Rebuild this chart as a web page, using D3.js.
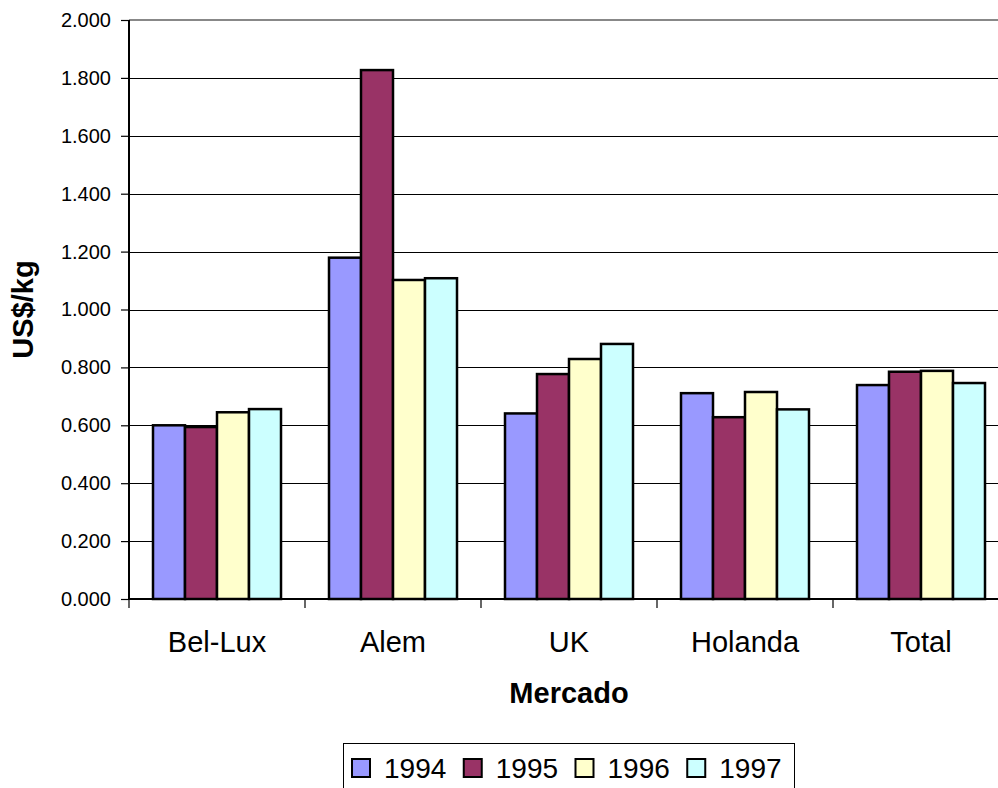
<!DOCTYPE html>
<html>
<head>
<meta charset="utf-8">
<script src="https://cdn.jsdelivr.net/npm/d3@7"></script>
<style>
  html, body { margin: 0; padding: 0; background: #fff; }
  svg { display: block; }
  text { font-family: Arial, "Liberation Sans", sans-serif; fill: #000; }
</style>
</head>
<body>
<svg id="chart" width="998" height="788"></svg>
<script>
// Price per kg by market, 1994-1997
const categories = ["Bel-Lux", "Alem", "UK", "Holanda", "Total"];
const years = ["1994", "1995", "1996", "1997"];
const v1994 = [0.600, 1.179, 0.641, 0.711, 0.739];
const v1995 = [0.594, 1.827, 0.777, 0.628, 0.785];
const v1996 = [0.645, 1.102, 0.829, 0.715, 0.788];
const v1997 = [0.656, 1.108, 0.881, 0.655, 0.746];
const yTicks = [0, 0.2, 0.4, 0.6, 0.8, 1.0, 1.2, 1.4, 1.6, 1.8, 2.0];
const colors = ["#9999FF", "#993366", "#FFFFCC", "#CCFFFF"];

const seriesValues = [v1994, v1995, v1996, v1997];
const rows = categories.map((c, i) => ({
  cat: c,
  vals: years.map((yr, k) => ({ year: yr, value: seriesValues[k][i], color: colors[k] }))
}));

const svg = d3.select("#chart");
const plotLeft = 129, plotRight = 1009, plotTop = 20, plotBottom = 599;

const x = d3.scaleBand().domain(categories).range([plotLeft, plotRight]).padding(0);
const xIn = d3.scaleBand().domain(years).range([24, x.bandwidth() - 24]).padding(0);
const y = d3.scaleLinear().domain([0, 2]).range([plotBottom, plotTop]);

// horizontal gridlines
svg.append("g").selectAll("line")
  .data(yTicks.filter(t => t > 0 && t < 2))
  .join("line")
  .attr("x1", plotLeft).attr("x2", plotRight)
  .attr("y1", d => Math.round(y(d)) + 0.5).attr("y2", d => Math.round(y(d)) + 0.5)
  .attr("stroke", "#000").attr("stroke-width", 1);

// top border of plot area
svg.append("line")
  .attr("x1", plotLeft).attr("x2", plotRight)
  .attr("y1", y(2)).attr("y2", y(2))
  .attr("stroke", "#888").attr("stroke-width", 2);

// bars
const groups = svg.append("g").selectAll("g")
  .data(rows).join("g")
  .attr("transform", d => `translate(${x(d.cat)},0)`);

groups.selectAll("rect")
  .data(d => d.vals).join("rect")
  .attr("x", d => xIn(d.year))
  .attr("width", xIn.bandwidth())
  .attr("y", d => y(d.value))
  .attr("height", d => y(0) - y(d.value))
  .attr("fill", d => d.color)
  .attr("stroke", "#000")
  .attr("stroke-width", 2.5);

// y axis
const yAxis = d3.axisLeft(y)
  .tickValues(yTicks)
  .tickFormat(d3.format(".3f"))
  .tickSize(8)
  .tickPadding(10);
const gy = svg.append("g").attr("transform", `translate(${plotLeft},0)`).call(yAxis);
gy.select(".domain").attr("stroke", "#000").attr("stroke-width", 2).attr("d", `M0,${plotTop}V${plotBottom}`);
gy.selectAll(".tick line").attr("stroke", "#000").attr("stroke-width", 1.2);
gy.selectAll(".tick text")
  .style("font-family", "Arial, 'Liberation Sans', sans-serif")
  .style("font-size", "20px")
  .attr("fill", "#000");

// x axis
const xAxis = d3.axisBottom(x).tickSize(0).tickPadding(0).tickFormat(() => "");
const gx = svg.append("g").attr("transform", `translate(0,${plotBottom})`).call(xAxis);
gx.select(".domain").attr("stroke", "#000").attr("stroke-width", 2).attr("d", `M${plotLeft},0H${plotRight}`);

// category separator ticks
svg.append("g").selectAll("line")
  .data(categories.map(c => x(c)))
  .join("line")
  .attr("x1", d => d).attr("x2", d => d)
  .attr("y1", plotBottom).attr("y2", plotBottom + 9)
  .attr("stroke", "#000").attr("stroke-width", 1.2);

// category labels
svg.append("g").selectAll("text")
  .data(categories).join("text")
  .attr("x", d => x(d) + x.bandwidth() / 2)
  .attr("y", 652)
  .attr("text-anchor", "middle")
  .style("font-size", "29px")
  .text(d => d);

// axis titles
svg.append("text")
  .attr("x", (plotLeft + plotRight) / 2)
  .attr("y", 703)
  .attr("text-anchor", "middle")
  .style("font-size", "29px")
  .style("font-weight", "bold")
  .text("Mercado");

svg.append("text")
  .attr("transform", `translate(33,${(plotTop + plotBottom) / 2}) rotate(-90)`)
  .attr("text-anchor", "middle")
  .style("font-size", "29px")
  .style("font-weight", "bold")
  .text("US$/kg");

// legend
const legend = svg.append("g");
legend.append("rect")
  .attr("x", 343.5).attr("y", 743.5)
  .attr("width", 451).attr("height", 60)
  .attr("fill", "#fff").attr("stroke", "#000").attr("stroke-width", 1);

const lx = d3.scaleBand().domain(years).range([352, 799]);
const items = legend.selectAll("g.item")
  .data(years.map((yr, k) => ({ year: yr, color: colors[k] })))
  .join("g").attr("class", "item")
  .attr("transform", d => `translate(${lx(d.year)},0)`);
items.append("rect")
  .attr("x", 0).attr("y", 759)
  .attr("width", 18).attr("height", 18)
  .attr("fill", d => d.color)
  .attr("stroke", "#000").attr("stroke-width", 2);
items.append("text")
  .attr("x", 32).attr("y", 778)
  .style("font-size", "28px")
  .text(d => d.year);
</script>
</body>
</html>
